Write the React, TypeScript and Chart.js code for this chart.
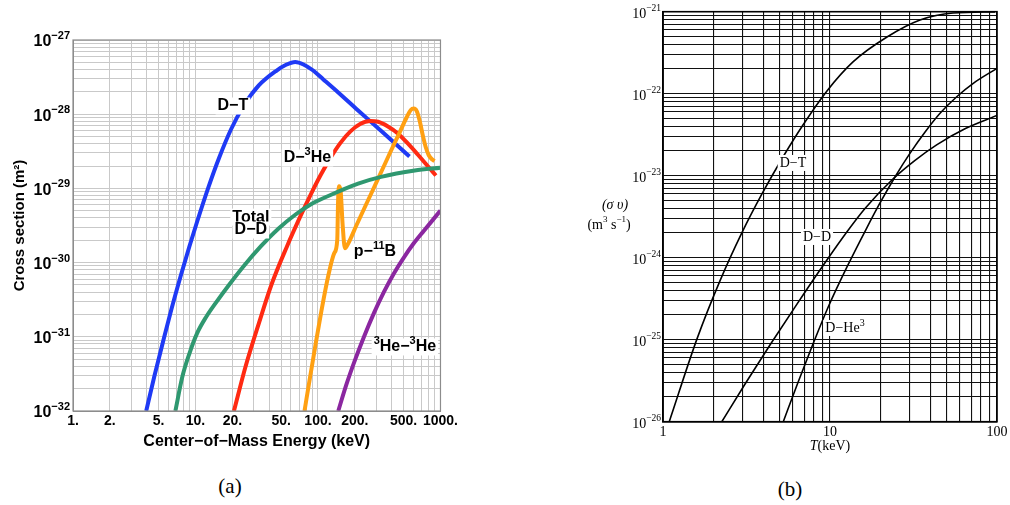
import React, { useEffect, useRef } from "react";
import { Chart, registerables } from "chart.js";

Chart.register(...registerables);

// ---------- Panel (a): cross section (m^2) vs centre-of-mass energy (keV) ----------
const DT_E = [3.96, 4.62, 5.4, 6.32, 7.61, 8.89, 10.32, 12.68, 15.57, 19.48, 24.83, 32.86, 45.98, 54.4, 65.2, 76.1, 90.1, 110.6, 146.4, 212.7, 339.2, 558.4];
const DT_S = [1e-32, 2.96e-32, 8.25e-32, 2.26e-31, 6.8e-31, 1.62e-30, 3.58e-30, 1.01e-29, 2.57e-29, 6.22e-29, 1.31e-28, 2.44e-28, 3.88e-28, 4.6e-28, 5.06e-28, 4.68e-28, 3.94e-28, 2.94e-28, 1.96e-28, 1.12e-28, 5.66e-29, 2.69e-29];

const DHE3_E = [20.6, 25.6, 32.9, 42.1, 55.7, 71.6, 86.8, 104.6, 126.1, 152.0, 183.2, 220.8, 266.1, 309.0, 372.4, 448.9, 541.0, 652.2, 786.0, 917.8];
const DHE3_S = [1e-32, 3.95e-32, 1.52e-31, 5.26e-31, 1.64e-30, 4.16e-30, 8.13e-30, 1.49e-29, 2.56e-29, 4.08e-29, 5.83e-29, 7.36e-29, 8.07e-29, 7.9e-29, 6.83e-29, 5.5e-29, 4.03e-29, 2.86e-29, 2.0e-29, 1.49e-29];

const DD_E = [6.85, 7.8, 8.89, 10.32, 12.21, 15.0, 18.76, 24.8, 34.1, 47.7, 65.6, 88.4, 121.4, 212.7, 326.8, 616.6, 1000];
const DD_S = [1e-32, 2.87e-32, 5.86e-32, 1.12e-31, 1.85e-31, 3.03e-31, 4.99e-31, 9.0e-31, 1.65e-30, 2.88e-30, 4.45e-30, 6.17e-30, 7.91e-30, 1.16e-29, 1.43e-29, 1.74e-29, 1.9e-29];

const PB_E = [77.6, 86.3, 95.8, 107, 121, 136, 143.6, 146, 148.5, 152.8, 159, 165.9, 176.5, 204.8, 246.9, 309.0, 386.6, 465.9, 531.1, 572.1, 605.1, 640.0, 676.9, 715.9, 757.3, 800.8, 847.0, 895.7];
const PB_S = [1e-32, 2.9e-32, 8.1e-32, 2.3e-31, 6.5e-31, 1.35e-30, 2.0e-30, 7e-30, 1.07e-29, 9.5e-30, 3.2e-30, 1.56e-30, 1.81e-30, 3.11e-30, 6.07e-30, 1.34e-29, 3.0e-29, 5.75e-29, 9.16e-29, 1.14e-28, 1.19e-28, 1.1e-28, 8.09e-29, 5.25e-29, 3.61e-29, 2.82e-29, 2.49e-29, 2.34e-29];

const HE3HE3_E = [146.4, 169.9, 197.3, 237.9, 286.7, 345.5, 416.5, 501.9, 605.1, 729.5, 1000];
const HE3HE3_S = [1e-32, 2.23e-32, 4.52e-32, 1.01e-31, 2.1e-31, 4.03e-31, 7.15e-31, 1.17e-30, 1.82e-30, 2.67e-30, 5.02e-30];

const A_X_TICKS = [1, 2, 5, 10, 20, 50, 100, 200, 500, 1000];
const A_X_LABELS = ["1.", "2.", "5.", "10.", "20.", "50.", "100.", "200.", "500.", "1000."];
const A_Y_TICKS = [1e-32, 1e-31, 1e-30, 1e-29, 1e-28, 1e-27];
const A_Y_LABELS = ["10^-32", "10^-31", "10^-30", "10^-29", "10^-28", "10^-27"];

const A_LABEL_TEXT = ["D−T", "D−^3He", "Total", "D−D", "p−^11B", "^3He−^3He"];
const A_LABEL_E = [20.2, 82, 28.3, 28.3, 292, 512];
const A_LABEL_S = [1.29e-28, 2.57e-29, 4.1e-30, 2.75e-30, 1.39e-30, 7.3e-32];

// ---------- Panel (b): reactivity <σv> (m^3 s^-1) vs temperature (keV) ----------
const B_DT_T = [1.09, 1.6, 2.19, 2.97, 3.92, 5.23, 6.89, 9.59, 13.73, 21.94, 34.6, 54.5, 97.3];
const B_DT_SV = [1e-26, 1.03e-25, 5.18e-25, 2.02e-24, 6.03e-24, 1.69e-23, 4.15e-23, 1.08e-22, 2.44e-22, 4.91e-22, 7.92e-22, 9.64e-22, 9.95e-22];

const B_DD_T = [2.25, 3.1, 4.37, 6.17, 8.71, 12.3, 16.2, 23.9, 32.3, 43.5, 64.3, 100];
const B_DD_SV = [1e-26, 2.88e-26, 8.61e-26, 2.5e-25, 7.08e-25, 1.92e-24, 3.98e-24, 9.17e-24, 1.54e-23, 2.38e-23, 3.74e-23, 5.43e-23];

const B_DHE3_T = [5.25, 6.43, 7.94, 9.77, 12.64, 16.59, 19.93, 24.5, 30.1, 37.1, 45.6, 57.6, 72.1, 100];
const B_DHE3_SV = [1e-26, 3.01e-26, 9.03e-26, 2.52e-25, 7.71e-25, 2.3e-24, 4.65e-24, 9.64e-24, 1.87e-23, 3.41e-23, 5.77e-23, 9.25e-23, 1.34e-22, 2.04e-22];

const B_X_TICKS = [1, 10, 100];
const B_X_LABELS = ["1", "10", "100"];
const B_Y_TICKS = [1e-26, 1e-25, 1e-24, 1e-23, 1e-22, 1e-21];
const B_Y_LABELS = ["10^-26", "10^-25", "10^-24", "10^-23", "10^-22", "10^-21"];

const B_LABEL_TEXT = ["D−T", "D−D", "D−He^3"];
const B_LABEL_T = [6.0, 8.36, 12.3];
const B_LABEL_SV = [1.43e-23, 1.79e-24, 1.39e-25];

// ---------- helpers ----------
const SANS = "'Liberation Sans', Arial, Helvetica, 'DejaVu Sans', sans-serif";
const SERIF = "'Liberation Serif', 'Times New Roman', 'DejaVu Serif', serif";

function zip(xs: number[], ys: number[]) {
  return xs.map((x, i) => ({ x, y: ys[i] }));
}

function gridValues(minExp: number, maxExp: number) {
  const out: number[] = [];
  for (let e = minExp; e < maxExp; e++) {
    for (let m = 1; m <= 9; m++) out.push(Number(m + "e" + e));
  }
  out.push(Number("1e" + maxExp));
  return out;
}

function labelFor(v: number, ticks: number[], labels: string[]) {
  for (let i = 0; i < ticks.length; i++) {
    if (Math.abs(Math.log10(v) - Math.log10(ticks[i])) < 1e-6) return labels[i];
  }
  return "";
}

type Seg = { t: string; sup: boolean };
function parseRich(s: string): Seg[] {
  const parts: Seg[] = [];
  const re = /\^(-?\d+)/g;
  let last = 0;
  let m: RegExpExecArray | null;
  while ((m = re.exec(s))) {
    if (m.index > last) parts.push({ t: s.slice(last, m.index), sup: false });
    parts.push({ t: m[1].replace("-", "−"), sup: true });
    last = m.index + m[0].length;
  }
  if (last < s.length) parts.push({ t: s.slice(last), sup: false });
  return parts;
}

function drawRich(
  ctx: CanvasRenderingContext2D,
  text: string,
  ax: number,
  cy: number,
  font: string,
  supFont: string,
  rise: number,
  height: number,
  bg: boolean,
  align: "center" | "right" = "center"
) {
  const segs = parseRich(text);
  const widths = segs.map((s) => {
    ctx.font = s.sup ? supFont : font;
    return ctx.measureText(s.t).width;
  });
  const total = widths.reduce((a, b) => a + b, 0);
  let x = align === "center" ? ax - total / 2 : ax - total;
  if (bg) {
    ctx.fillStyle = "#ffffff";
    ctx.fillRect(x - 2, cy - height / 2 - 2, total + 4, height + 4);
  }
  ctx.fillStyle = "#000000";
  ctx.textAlign = "left";
  ctx.textBaseline = "middle";
  segs.forEach((s, i) => {
    ctx.font = s.sup ? supFont : font;
    ctx.fillText(s.t, x, s.sup ? cy - rise : cy);
    x += widths[i];
  });
}

export default function App() {
  const refA = useRef<HTMLCanvasElement>(null);
  const refB = useRef<HTMLCanvasElement>(null);

  useEffect(() => {
    const gridA = gridValues(0, 3);
    const gridAY = gridValues(-32, -27);
    const gridB = gridValues(0, 2);
    const gridBY = gridValues(-26, -21);

    const frameA = {
      id: "frameA",
      afterDatasetsDraw(chart: any) {
        const { ctx, chartArea: ca, scales } = chart;
        ctx.save();
        A_LABEL_TEXT.forEach((t, i) => {
          const px = scales.x.getPixelForValue(A_LABEL_E[i]);
          const py = scales.y.getPixelForValue(A_LABEL_S[i]);
          drawRich(ctx, t, px, py, `bold 16px ${SANS}`, `bold 11px ${SANS}`, 6, 13, true);
        });
        ctx.strokeStyle = "#8c8c8c";
        ctx.lineWidth = 1.2;
        ctx.strokeRect(ca.left, ca.top, ca.right - ca.left, ca.bottom - ca.top);
        A_Y_TICKS.forEach((v, i) => {
          const py = scales.y.getPixelForValue(v);
          drawRich(ctx, A_Y_LABELS[i], ca.left - 3, py + 2, `bold 16px ${SANS}`, `bold 11px ${SANS}`, 6, 13, false, "right");
        });
        ctx.restore();
      },
    };

    const frameB = {
      id: "frameB",
      afterDatasetsDraw(chart: any) {
        const { ctx, chartArea: ca, scales } = chart;
        ctx.save();
        B_LABEL_TEXT.forEach((t, i) => {
          const px = scales.x.getPixelForValue(B_LABEL_T[i]);
          const py = scales.y.getPixelForValue(B_LABEL_SV[i]);
          drawRich(ctx, t, px, py, `14px ${SERIF}`, `10px ${SERIF}`, 5, 12, true);
        });
        ctx.strokeStyle = "#000000";
        ctx.lineWidth = 1.6;
        ctx.strokeRect(ca.left, ca.top, ca.right - ca.left, ca.bottom - ca.top);
        B_Y_TICKS.forEach((v, i) => {
          const py = scales.y.getPixelForValue(v);
          drawRich(ctx, B_Y_LABELS[i], ca.left - 2, py + 3, `14px ${SERIF}`, `9.5px ${SERIF}`, 6, 12, false, "right");
        });
        // y-axis title (horizontal, two lines)
        drawRich(ctx, "(σ υ)", ca.left - 48, 205, `italic 14px ${SERIF}`, `10px ${SERIF}`, 5, 12, false);
        drawRich(ctx, "(m^3 s^-1)", ca.left - 54, 225, `14px ${SERIF}`, `9px ${SERIF}`, 5, 12, false);
        // x-axis title with italic T
        const cx = (ca.left + ca.right) / 2;
        ctx.font = `italic 14px ${SERIF}`;
        const wT = ctx.measureText("T").width;
        ctx.font = `14px ${SERIF}`;
        const wR = ctx.measureText("(keV)").width;
        const x0 = cx - (wT + wR) / 2;
        ctx.fillStyle = "#000";
        ctx.textAlign = "left";
        ctx.textBaseline = "middle";
        ctx.font = `italic 14px ${SERIF}`;
        ctx.fillText("T", x0, 446.5);
        ctx.font = `14px ${SERIF}`;
        ctx.fillText("(keV)", x0 + wT, 446.5);
        ctx.restore();
      },
    };

    const lineDs = (label: string, xs: number[], ys: number[], color: string, width: number) => ({
      label,
      data: zip(xs, ys),
      borderColor: color,
      backgroundColor: color,
      borderWidth: width,
      pointRadius: 0,
      showLine: true,
      fill: false,
      cubicInterpolationMode: "monotone" as const,
      borderCapStyle: "butt" as const,
      borderJoinStyle: "round" as const,
    });

    const chartA = new Chart(refA.current as HTMLCanvasElement, {
      type: "scatter",
      data: {
        datasets: [
          lineDs("Total D−D", DD_E, DD_S, "#2f9870", 4),
          lineDs("³He−³He", HE3HE3_E, HE3HE3_S, "#8b27a0", 4),
          lineDs("p−¹¹B", PB_E, PB_S, "#ffa012", 4),
          lineDs("D−³He", DHE3_E, DHE3_S, "#ff2a12", 4),
          lineDs("D−T", DT_E, DT_S, "#1f3af5", 4),
        ],
      },
      options: {
        responsive: false,
        animation: false,
        devicePixelRatio: 1,
        layout: { padding: { left: 0, right: 17, top: 40, bottom: 0 } },
        plugins: { legend: { display: false }, tooltip: { enabled: false } },
        scales: {
          x: {
            type: "logarithmic",
            min: 1,
            max: 1000,
            afterBuildTicks: (s: any) => {
              s.ticks = gridA.map((v) => ({ value: v }));
            },
            afterFit: (s: any) => {
              s.height = 59;
            },
            ticks: {
              autoSkip: false,
              maxRotation: 0,
              padding: 2,
              color: "#000",
              font: { family: SANS, size: 14, weight: "bold" },
              callback: (v: any) => labelFor(Number(v), A_X_TICKS, A_X_LABELS),
            },
            grid: { color: "#c9c9c9", lineWidth: 1, drawTicks: false },
            border: { color: "#8c8c8c", width: 1 },
            title: {
              display: true,
              text: "Center−of−Mass Energy (keV)",
              color: "#000",
              font: { family: SANS, size: 16, weight: "bold" },
              padding: { top: 0, bottom: 19 },
            },
          },
          y: {
            type: "logarithmic",
            min: 1e-32,
            max: 1e-27,
            afterBuildTicks: (s: any) => {
              s.ticks = gridAY.map((v) => ({ value: v }));
            },
            afterFit: (s: any) => {
              s.width = 73;
            },
            ticks: { display: false, autoSkip: false },
            grid: { color: "#c9c9c9", lineWidth: 1, drawTicks: false },
            border: { color: "#8c8c8c", width: 1 },
            title: {
              display: true,
              text: "Cross section (m²)",
              color: "#000",
              font: { family: SANS, size: 15, weight: "bold" },
              padding: { top: 11, bottom: 0 },
            },
          },
        },
      },
      plugins: [frameA],
    } as any);

    const chartB = new Chart(refB.current as HTMLCanvasElement, {
      type: "scatter",
      data: {
        datasets: [
          lineDs("D−T", B_DT_T, B_DT_SV, "#000000", 1.6),
          lineDs("D−D", B_DD_T, B_DD_SV, "#000000", 1.6),
          lineDs("D−He³", B_DHE3_T, B_DHE3_SV, "#000000", 1.6),
        ],
      },
      options: {
        responsive: false,
        animation: false,
        devicePixelRatio: 1,
        layout: { padding: { left: 0, right: 13, top: 11.7, bottom: 0 } },
        plugins: { legend: { display: false }, tooltip: { enabled: false } },
        scales: {
          x: {
            type: "logarithmic",
            min: 1,
            max: 100,
            afterBuildTicks: (s: any) => {
              s.ticks = gridB.map((v) => ({ value: v }));
            },
            afterFit: (s: any) => {
              s.height = 48.3;
            },
            ticks: {
              autoSkip: false,
              maxRotation: 0,
              padding: 2,
              color: "#000",
              font: { family: SERIF, size: 14 },
              callback: (v: any) => labelFor(Number(v), B_X_TICKS, B_X_LABELS),
            },
            grid: { color: "#111111", lineWidth: 1.1, drawTicks: false },
            border: { color: "#000", width: 1.6 },
          },
          y: {
            type: "logarithmic",
            min: 1e-26,
            max: 1e-21,
            afterBuildTicks: (s: any) => {
              s.ticks = gridBY.map((v) => ({ value: v }));
            },
            afterFit: (s: any) => {
              s.width = 143;
            },
            ticks: { display: false, autoSkip: false },
            grid: { color: "#111111", lineWidth: 1.1, drawTicks: false },
            border: { color: "#000", width: 1.6 },
          },
        },
      },
      plugins: [frameB],
    } as any);

    return () => {
      chartA.destroy();
      chartB.destroy();
    };
  }, []);

  return (
    <div style={{ position: "absolute", left: 0, top: 0, width: 1010, height: 505, background: "#fff" }}>
      <canvas
        ref={refA}
        width={460}
        height={470}
        style={{ position: "absolute", left: 0, top: 0, width: 460, height: 470 }}
      />
      <canvas
        ref={refB}
        width={490}
        height={470}
        style={{ position: "absolute", left: 520, top: 0, width: 490, height: 470 }}
      />
      <div
        style={{
          position: "absolute",
          left: 180,
          top: 474,
          width: 100,
          textAlign: "center",
          fontFamily: SERIF,
          fontSize: 21,
          lineHeight: "24px",
        }}
      >
        (a)
      </div>
      <div
        style={{
          position: "absolute",
          left: 740,
          top: 477,
          width: 100,
          textAlign: "center",
          fontFamily: SERIF,
          fontSize: 21,
          lineHeight: "24px",
        }}
      >
        (b)
      </div>
    </div>
  );
}
